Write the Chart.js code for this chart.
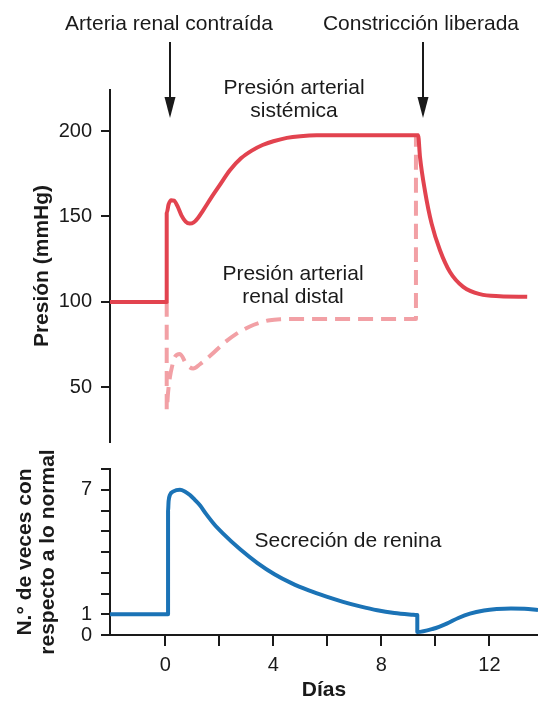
<!DOCTYPE html>
<html><head><meta charset="utf-8">
<script src="https://cdn.jsdelivr.net/npm/chart.js@4.4.0/dist/chart.umd.min.js"></script>
<style>
html,body{margin:0;padding:0;background:#fff;}
#wrap{position:relative;width:538px;height:703px;overflow:hidden;background:#fff;}
canvas{position:absolute;left:0;}
#topChart{top:0;}
#botChart{top:450px;}
</style></head><body>
<div id="wrap"><canvas id="topChart" width="538" height="450"></canvas><canvas id="botChart" width="538" height="253"></canvas></div>
<script>
// ---------- DATA ----------
const sysDays   = [-2.05, 0.05, 0.05, 0.12, 0.22, 0.32, 0.45, 0.6, 0.75, 0.9, 1.05, 1.2, 1.4, 1.7, 2.0, 2.39, 2.8, 3.2, 3.6, 4.0, 4.5, 5.0, 5.6, 9.36, 9.43, 9.61, 9.86, 10.17, 10.54, 11.03, 11.65, 12.39, 13.4];
const sysValues = [100, 100, 152, 157, 159.5, 159.3, 156, 150.5, 147, 145.8, 146.5, 149, 153.6, 161, 168, 177, 184, 188.5, 191.8, 194, 196, 197, 197.5, 197.5, 184.8, 165.3, 145.8, 130.2, 117.5, 108.8, 104.5, 103.3, 103];

const distalDays   = [0.05, 0.05, 0.1, 0.17, 0.26, 0.35, 0.54, 0.78, 1.03, 1.28, 1.7, 2.14, 2.6, 3.13, 3.5, 3.87, 4.3, 4.6, 9.28, 9.28];
const distalValues = [100, 37, 47, 56, 63, 67.8, 69.5, 63.5, 61, 63.5, 69, 75.5, 81, 85.6, 87.8, 89.3, 89.9, 90, 90, 197];

const reninDays   = [-2.05, 0.1, 0.1, 0.12, 0.17, 0.3, 0.54, 0.72, 0.91, 1.1, 1.28, 1.5, 1.8, 2.13, 2.77, 3.4, 4.04, 4.67, 5.31, 5.94, 6.58, 7.21, 7.85, 8.48, 9.12, 9.33, 9.33, 9.92, 10.42, 10.85, 11.28, 11.8, 12.27, 12.8, 13.3, 13.8];
const reninValues = [1, 1, 6.0, 6.45, 6.75, 6.92, 7.0, 6.92, 6.75, 6.5, 6.25, 5.85, 5.35, 4.9, 4.13, 3.48, 2.93, 2.5, 2.15, 1.86, 1.6, 1.38, 1.19, 1.06, 0.98, 0.96, 0.14, 0.3, 0.55, 0.82, 1.03, 1.18, 1.25, 1.28, 1.27, 1.2];

const pressureTicks = [50, 100, 150, 200];
const reninTickMarks = [0, 1, 2, 3, 4, 5, 6, 7, 8];
const reninTickLabels = [0, 1, 7];
const dayTickMarks = [0, 2, 4, 6, 8, 10, 12];
const dayTickLabels = [0, 4, 8, 12];

// ---------- STYLE ----------
const FONT = '"Liberation Sans", Arial, Helvetica, sans-serif';
const INK = '#1a1a1a';
const RED = '#E2434F';
const PINK = '#F2A0A5';
const BLUE = '#1B73B6';
const X_MIN = -2.05, X_MAX = 13.8;

const toXY = (xs, ys) => xs.map((x, i) => ({x: x, y: ys[i]}));

const notesPlugin = {
  id: 'notes',
  afterDraw(chart, args, opts) {
    const ctx = chart.ctx;
    ctx.save();
    ctx.fillStyle = INK;
    ctx.strokeStyle = INK;
    ctx.font = '21px ' + FONT;
    ctx.textAlign = 'center';
    ctx.textBaseline = 'alphabetic';
    (opts.texts || []).forEach(t => ctx.fillText(t.text, t.x, t.y));
    (opts.arrows || []).forEach(a => {
      ctx.lineWidth = 2;
      ctx.beginPath();
      ctx.moveTo(a.x, a.y1);
      ctx.lineTo(a.x, a.y2 - 12);
      ctx.stroke();
      ctx.beginPath();
      ctx.moveTo(a.x - 5.5, a.y2 - 21);
      ctx.lineTo(a.x + 5.5, a.y2 - 21);
      ctx.lineTo(a.x, a.y2);
      ctx.closePath();
      ctx.fill();
    });
    ctx.restore();
  }
};

const fixY = (w) => (scale) => { scale.width = w; scale.paddingTop = 0; scale.paddingBottom = 0; };

const commonLine = {pointRadius: 0, borderWidth: 4, fill: false, cubicInterpolationMode: 'monotone', borderJoinStyle: 'round'};

// ---------- TOP CHART ----------
new Chart(document.getElementById('topChart'), {
  type: 'line',
  data: {
    datasets: [
      Object.assign({label: 'Presión arterial sistémica', data: toXY(sysDays, sysValues), borderColor: RED, order: 1}, commonLine),
      Object.assign({label: 'Presión arterial renal distal', data: toXY(distalDays, distalValues), borderColor: PINK, borderDash: [15, 8], borderCapStyle: 'butt', order: 2}, commonLine)
    ]
  },
  options: {
    responsive: false, devicePixelRatio: 1, animation: false,
    layout: {padding: {top: 90, bottom: 8, left: 0, right: 0}},
    plugins: {
      legend: {display: false}, tooltip: {enabled: false},
      notes: {
        texts: [
          {text: 'Arteria renal contraída', x: 169, y: 30},
          {text: 'Constricción liberada', x: 421, y: 30},
          {text: 'Presión arterial', x: 294, y: 94},
          {text: 'sistémica', x: 294, y: 117},
          {text: 'Presión arterial', x: 293, y: 280},
          {text: 'renal distal', x: 293, y: 303}
        ],
        arrows: [
          {x: 170, y1: 42, y2: 118},
          {x: 423, y1: 42, y2: 118}
        ]
      }
    },
    scales: {
      x: {type: 'linear', min: X_MIN, max: X_MAX, display: false},
      y: {
        type: 'linear', min: 18, max: 224,
        afterBuildTicks: (s) => { s.ticks = pressureTicks.map(v => ({value: v})); },
        afterFit: fixY(110),
        grid: {display: true, drawOnChartArea: false, drawTicks: true, tickLength: 9, color: INK, lineWidth: 2},
        border: {display: true, color: INK, width: 2},
        ticks: {font: {family: FONT, size: 20}, color: INK, padding: 9},
        title: {display: true, text: 'Presión (mmHg)', font: {family: FONT, size: 21, weight: 'bold'}, color: INK, padding: {top: 30, bottom: 0}}
      }
    }
  },
  plugins: [notesPlugin]
});

// ---------- BOTTOM CHART ----------
new Chart(document.getElementById('botChart'), {
  type: 'line',
  data: {
    datasets: [
      Object.assign({label: 'Secreción de renina', data: toXY(reninDays, reninValues), borderColor: BLUE}, commonLine)
    ]
  },
  options: {
    responsive: false, devicePixelRatio: 1, animation: false,
    layout: {padding: {top: 19, bottom: 0, left: 0, right: 0}},
    plugins: {
      legend: {display: false}, tooltip: {enabled: false},
      notes: {
        texts: [{text: 'Secreción de renina', x: 348, y: 96.5}]
      }
    },
    scales: {
      x: {
        type: 'linear', min: X_MIN, max: X_MAX,
        afterBuildTicks: (s) => { s.ticks = dayTickMarks.map(v => ({value: v})); },
        afterFit: (s) => { s.height = 68; s.paddingLeft = 0; s.paddingRight = 0; },
        grid: {display: true, drawOnChartArea: false, drawTicks: true, tickLength: 11, color: INK, lineWidth: 2},
        border: {display: true, color: INK, width: 2},
        ticks: {font: {family: FONT, size: 20}, color: INK, padding: 7, autoSkip: false, maxRotation: 0,
          callback: (v) => dayTickLabels.includes(v) ? String(v) : ''},
        title: {display: true, text: 'Días', font: {family: FONT, size: 21, weight: 'bold'}, color: INK, padding: {top: 0, bottom: 0}}
      },
      y: {
        type: 'linear', min: 0, max: 8,
        afterBuildTicks: (s) => { s.ticks = reninTickMarks.map(v => ({value: v})); },
        afterFit: fixY(110),
        grid: {display: true, drawOnChartArea: false, drawTicks: true, tickLength: 9, color: INK, lineWidth: 2},
        border: {display: true, color: INK, width: 2},
        ticks: {font: {family: FONT, size: 20}, color: INK, padding: 9, autoSkip: false,
          callback: (v) => reninTickLabels.includes(v) ? String(v) : ''},
        title: {display: true, text: ['N.° de veces con', 'respecto a lo normal'], font: {family: FONT, size: 21, weight: 'bold', lineHeight: 1.1}, color: INK, padding: {top: 13.5, bottom: 0}}
      }
    }
  },
  plugins: [notesPlugin]
});
</script>
</body></html>
